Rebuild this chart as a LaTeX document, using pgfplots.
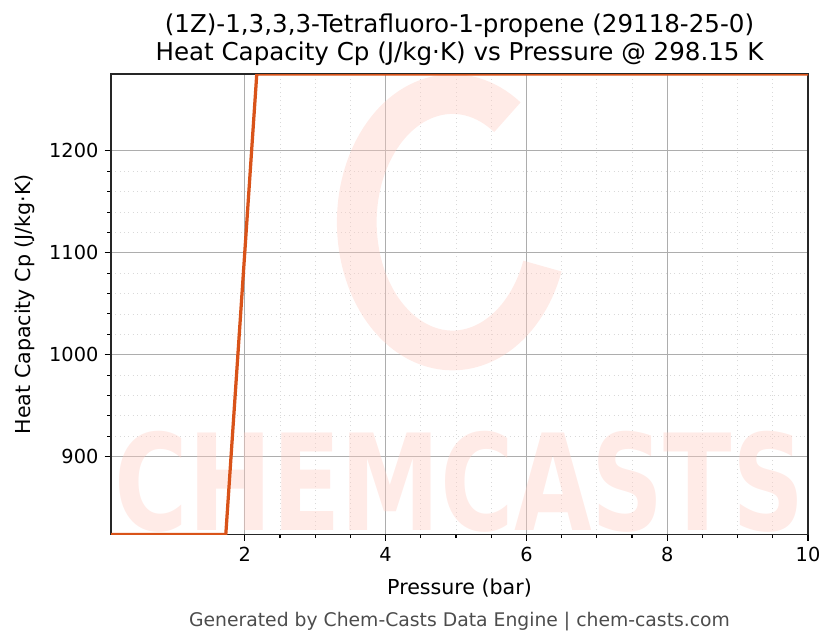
\documentclass[border=0pt]{standalone}
\usepackage{pgfplots}
\pgfplotsset{compat=1.18}
\usepackage{fontspec}
\setmainfont{DejaVu Sans}
\usepackage{graphicx}
\usetikzlibrary{calc}
\definecolor{lineor}{RGB}{217,83,25}
\definecolor{wm}{RGB}{255,205,195}
\begin{document}
\fontsize{10}{12}\selectfont
\begin{tikzpicture}
\begin{axis}[
  scale only axis,
  width=386pt, height=255pt,
  xmin=0.1, xmax=10, ymin=823.5, ymax=1275.5,
  xtick={2,4,6,8,10}, ytick={900,1000,1100,1200},
  minor x tick num=3, minor y tick num=4,
  tick align=outside, tick pos=left,
  major tick length=3.5pt, minor tick length=2pt,
  every tick/.style={black, line width=0.6pt},
  grid=both,
  major grid style={draw=black!32, line width=0.5pt},
  minor grid style={draw=black!15, line width=0.4pt, dotted},
  axis line style={line width=0.9pt, black!85},
  xlabel={Pressure (bar)}, ylabel={Heat Capacity Cp (J/kg·K)},
  every axis x label/.style={at={(axis description cs:0.5,0)}, anchor=center, yshift=-29.4pt},
  every axis y label/.style={at={(axis description cs:0,0.5)}, xshift=-48pt, rotate=90, anchor=center},
  tick label style={font=\fontsize{10.7}{12}\selectfont},
  label style={font=\fontsize{11.4}{13}\selectfont},
  /pgf/number format/assume math mode=true,
  /pgf/number format/1000 sep={},
  clip mode=individual,
]
\begin{scope}
\clip (rel axis cs:0,0) rectangle (rel axis cs:1,1);
\node[opacity=0.4, text=wm, inner sep=0pt] at (axis cs:5.05,875) {\resizebox{382pt}{55pt}{\bfseries CHEMCASTS}};
\draw[wm, opacity=0.4, line width=22pt] ($(axis cs:4.95,1130)+(55:53pt and 71pt)$) arc[start angle=55, end angle=340, x radius=53pt, y radius=71pt];
\end{scope}
\addplot[lineor, line width=1.8pt] coordinates {
  (0.1,823.5) (1.73,823.5) (2.17,1275.5) (10,1275.5)
};
\end{axis}
\node[align=center, anchor=south, font=\fontsize{13.6}{15.5}\selectfont] at ($(current axis.north)+(0,1pt)$) {(1Z)-1,3,3,3-Tetrafluoro-1-propene (29118-25-0)\\Heat Capacity Cp (J/kg·K) vs Pressure @ 298.15 K};
\node[text=black!70, font=\fontsize{10.4}{12}\selectfont] at ($(current axis.south)+(0,-48pt)$) {Generated by Chem-Casts Data Engine | chem-casts.com};
\pgfresetboundingbox
\path ($(current axis.south west)+(-61.5pt,-60.4pt)$) rectangle ($(current axis.north east)+(15.5pt,41pt)$);
\end{tikzpicture}
\end{document}
